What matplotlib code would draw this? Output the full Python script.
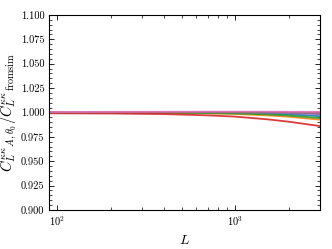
import matplotlib
matplotlib.use('Agg')
import matplotlib.pyplot as plt
from matplotlib.ticker import MultipleLocator, AutoMinorLocator

plt.rcParams['font.family'] = 'serif'
plt.rcParams['font.serif'] = ['cmr10']
plt.rcParams['mathtext.fontset'] = 'cm'
plt.rcParams['axes.formatter.use_mathtext'] = True
plt.rcParams['axes.unicode_minus'] = False

# multipoles
L = [90, 200, 400, 700, 1000, 1500, 2000, 3000]

# ratio curves, one per estimator variant
ratio_blue = [1.0000, 1.0000, 1.0000, 0.9996, 0.9993, 0.9987, 0.9980, 0.9962]
ratio_orange = [1.0000, 1.0000, 0.9995, 0.9990, 0.9984, 0.9970, 0.9956, 0.9926]
ratio_green = [1.0000, 1.0000, 0.9996, 0.9993, 0.9989, 0.9980, 0.9968, 0.9942]
ratio_red = [0.9991, 0.9989, 0.9983, 0.9970, 0.9957, 0.9930, 0.9905, 0.9860]
ratio_purple = [1.0002, 1.0003, 1.0004, 1.0002, 1.0001, 0.9998, 0.9994, 0.9982]
ratio_brown = [1.0002, 1.0003, 1.0004, 1.0005, 1.0004, 1.0003, 1.0001, 0.9996]
ratio_pink = [1.0005, 1.0006, 1.0007, 1.0008, 1.0008, 1.0008, 1.0007, 1.0006]

series = [ratio_blue, ratio_orange, ratio_green, ratio_red,
          ratio_purple, ratio_brown, ratio_pink]
colors = ['tab:blue', 'tab:orange', 'tab:green', 'tab:red',
          'tab:purple', 'tab:brown', 'tab:pink']

fig = plt.figure(figsize=(3.32, 2.49), dpi=100)
ax = fig.add_axes([0.148, 0.157, 0.816, 0.783])

for r, c in zip(series, colors):
    ax.plot(L, r, color=c, lw=1.3, alpha=0.9)

ax.set_xscale('log')
ax.set_xlim(90, 3000)
ax.set_ylim(0.9, 1.1)
ax.yaxis.set_major_locator(MultipleLocator(0.025))
ax.yaxis.set_minor_locator(AutoMinorLocator(5))
ax.yaxis.set_major_formatter(plt.FormatStrFormatter('%.3f'))
ax.tick_params(which='both', direction='in', top=True, right=True, labelsize=7.5)
ax.tick_params(which='major', length=3.5, width=0.6)
ax.tick_params(which='minor', length=2, width=0.5)
for s in ax.spines.values():
    s.set_linewidth(0.8)

ax.set_xlabel(r'$L$', fontsize=10)
ax.set_ylabel(r'$C_L^{\kappa\kappa}{}_{A,\theta_0}/C_L^{\kappa\kappa}{}_{\rm fromsim}$', fontsize=10.5, labelpad=1)

plt.savefig('out.png', dpi=100)
